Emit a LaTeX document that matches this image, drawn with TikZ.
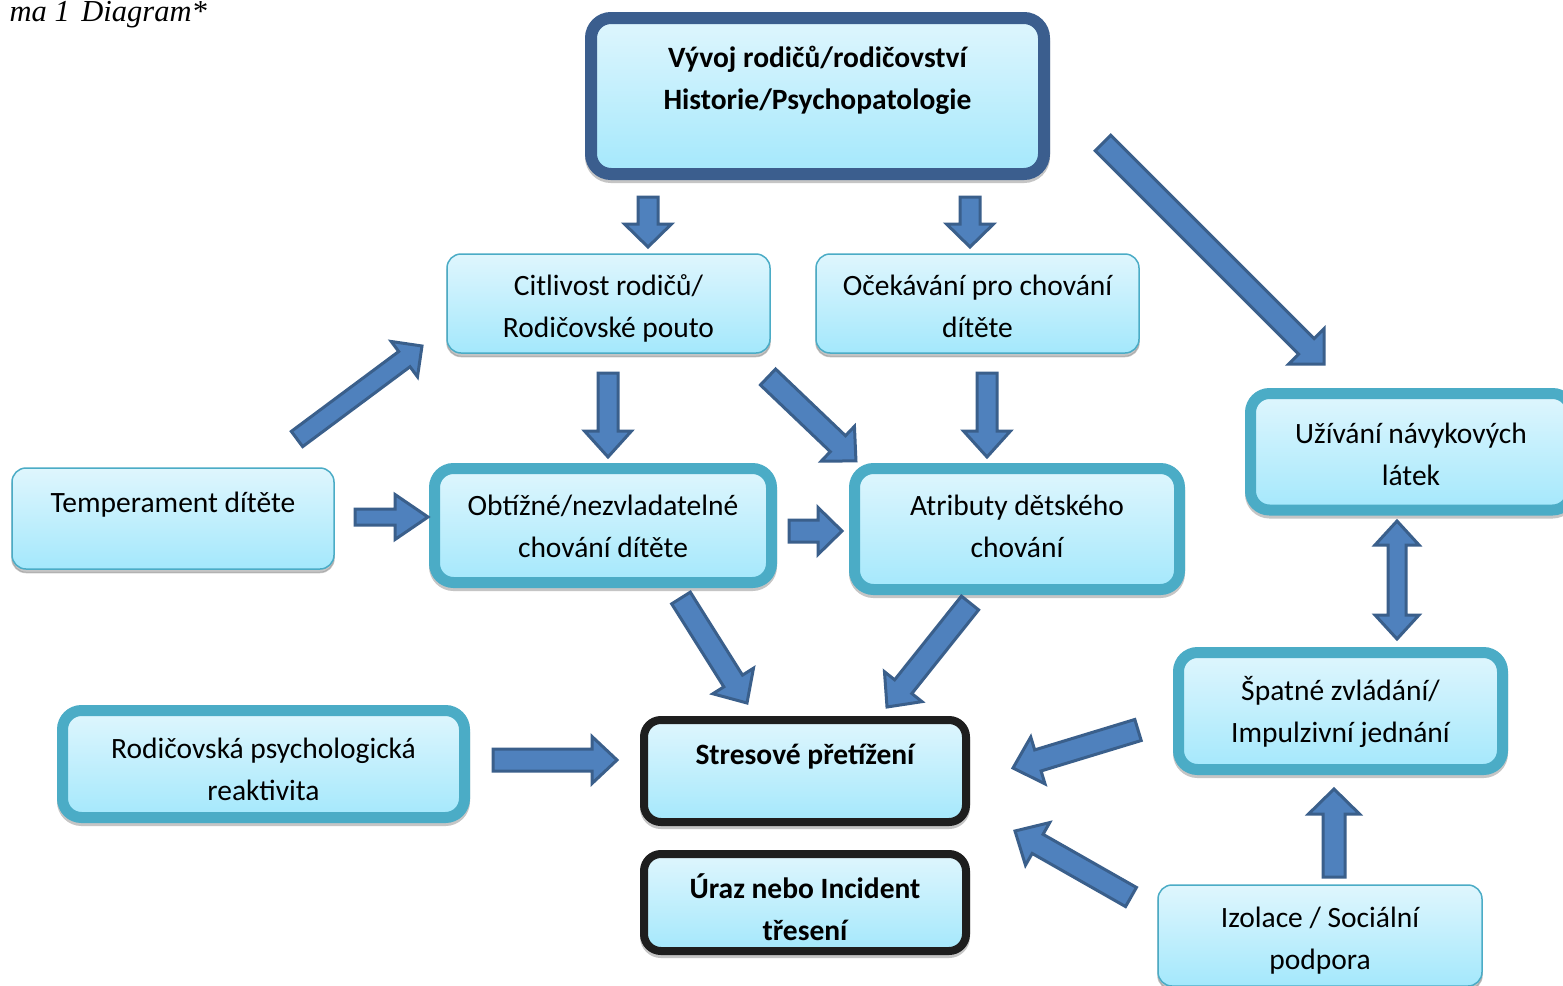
\documentclass[tikz,border=0pt]{standalone}
\usepackage{fontspec}
\setmainfont{Carlito}
\newfontfamily\capfont{Liberation Serif}
\usetikzlibrary{shadows,calc}
\definecolor{bxline}{HTML}{4BACC6}
\definecolor{topline}{HTML}{3B5E8E}
\definecolor{blkline}{HTML}{1E1E1E}
\definecolor{arrfill}{HTML}{4F81BD}
\definecolor{arrline}{HTML}{3A5F8B}
\definecolor{gtop}{HTML}{DFF6FD}
\definecolor{gbot}{HTML}{A4E8FC}
\definecolor{shd}{HTML}{8C8C8C}
\newcommand\bxt[4]{\begin{minipage}[c][#1pt][t]{#2pt}\centering\rule{0pt}{#3pt}#4\end{minipage}}
\newcommand\bas{11}
\newcommand\bah{24}
\newcommand\bal{25}
\begin{document}
\begin{tikzpicture}[x=1pt,y=-1pt,
  box/.style={rectangle, inner sep=0pt, top color=gtop, bottom color=gbot,
    font=\fontsize{29.5}{42}\selectfont, text=black},
  thinbox/.style={box, draw=bxline, line width=1.5pt, rounded corners=14pt,
    drop shadow={shadow xshift=0pt, shadow yshift=-3.5pt, fill=shd, draw=shd, line width=1.5pt}},
  thickbox/.style={box, draw=bxline, line width=11pt, rounded corners=19pt,
    drop shadow={shadow xshift=0pt, shadow yshift=-3pt, fill=shd, draw=shd, line width=11pt}},
  topbox/.style={box, draw=topline, line width=12pt, rounded corners=20pt,
    font=\fontsize{29.5}{42}\selectfont\bfseries,
    drop shadow={shadow xshift=0pt, shadow yshift=-3pt, fill=shd, draw=shd, line width=12pt}},
  blackbox/.style={box, draw=blkline, line width=8pt, rounded corners=17pt,
    font=\fontsize{29.5}{42}\selectfont\bfseries,
    drop shadow={shadow xshift=0pt, shadow yshift=-3pt, fill=shd, draw=shd, line width=8pt}},
  shaftw/.code={\renewcommand\bas{#1}},
  headw/.code={\renewcommand\bah{#1}},
  headl/.code={\renewcommand\bal{#1}},
  blockarrow/.style={draw=arrline, fill=arrfill, line width=3pt, line join=miter,
    to path={let \p1=(\tikztostart), \p2=(\tikztotarget),
      \n1={atan2(\y2-\y1,\x2-\x1)}, \n2={veclen(\x2-\x1,\y2-\y1)} in
      {[shift={(\p1)}, rotate=\n1]
       (0pt,\bas pt) -- ({\n2-\bal pt},\bas pt) -- ({\n2-\bal pt},\bah pt)
       -- ({\n2},0pt) -- ({\n2-\bal pt},-\bah pt) -- ({\n2-\bal pt},-\bas pt)
       -- (0pt,-\bas pt) -- cycle}}},
  dblarrow/.style={draw=arrline, fill=arrfill, line width=3pt, line join=miter,
    to path={let \p1=(\tikztostart), \p2=(\tikztotarget),
      \n1={atan2(\y2-\y1,\x2-\x1)}, \n2={veclen(\x2-\x1,\y2-\y1)} in
      {[shift={(\p1)}, rotate=\n1]
       (0pt,0pt) -- (\bal pt,\bah pt) -- (\bal pt,\bas pt) -- ({\n2-\bal pt},\bas pt)
       -- ({\n2-\bal pt},\bah pt) -- ({\n2},0pt) -- ({\n2-\bal pt},-\bah pt)
       -- ({\n2-\bal pt},-\bas pt) -- (\bal pt,-\bas pt) -- (\bal pt,-\bah pt) -- cycle}}}
]
\fill[white] (0,0) rectangle (1563,985);
\useasboundingbox (0,0) rectangle (1563,985);

\node[anchor=base east, inner sep=0pt, font=\capfont\itshape\fontsize{30.5}{35}\selectfont] (cap) at (207,21) {ma 1\hspace{4pt} Diagram*};

\node[topbox, minimum width=453pt] (vyvoj) at (817.5,96) {\bxt{156}{440}{49}{Vývoj rodičů/rodičovství\\Historie/Psychopatologie}};
\node[thinbox, minimum width=323pt] (citl) at (608.5,303.5) {\bxt{99}{310}{41}{Citlivost rodičů/\\Rodičovské pouto}};
\node[thinbox, minimum width=323pt] (ocek) at (977.5,303.5) {\bxt{99}{310}{41}{Očekávání pro chování\\dítěte}};
\node[thinbox, minimum width=322pt] (temp) at (173,518.5) {\bxt{101}{310}{44}{Temperament dítěte}};
\node[thickbox, minimum width=337pt] (obt) at (603,525.5) {\bxt{114}{325}{46.5}{Obtížné/nezvladatelné\\chování dítěte}};
\node[thickbox, minimum width=325pt] (atr) at (1017,529) {\bxt{121}{315}{46.5}{Atributy dětského\\chování}};
\node[thickbox, minimum width=321pt] (uziv) at (1411,451.75) {\bxt{116.5}{310}{49.5}{Užívání návykových\\látek}};
\node[thickbox, minimum width=324pt] (spat) at (1340.5,711) {\bxt{117}{315}{47.5}{Špatné zvládání/\\Impulzivní jednání}};
\node[thickbox, minimum width=402pt] (rodr) at (263.5,764) {\bxt{107}{390}{47.5}{Rodičovská psychologická\\reaktivita}};
\node[blackbox, minimum width=322pt] (stres) at (805,771) {\bxt{102}{310}{44}{Stresové přetížení}};
\node[blackbox, minimum width=322pt] (uraz) at (805,902.5) {\bxt{97}{310}{44}{Úraz nebo Incident\\třesení}};
\node[thinbox, minimum width=324pt] (izol) at (1320,935.5) {\bxt{101}{310}{42}{Izolace / Sociální\\podpora}};

% arrow end points
\coordinate (a1s) at (648,197);  \coordinate (a1e) at (648,247);
\coordinate (a2s) at (970,197);  \coordinate (a2e) at (970,247);
\coordinate (a3s) at (1103,143); \coordinate (a3e) at (1324,364);
\coordinate (a4s) at (297,439);  \coordinate (a4e) at (422,346);
\coordinate (a5s) at (608,373);  \coordinate (a5e) at (608,457);
\coordinate (a6s) at (768,377);  \coordinate (a6e) at (856,461);
\coordinate (a7s) at (987,373);  \coordinate (a7e) at (987,457);
\coordinate (a8s) at (355,517);  \coordinate (a8e) at (428,517);
\coordinate (a9s) at (789,531);  \coordinate (a9e) at (842,531);
\coordinate (a10s) at (1397,521); \coordinate (a10e) at (1397,639);
\coordinate (a11s) at (681,598); \coordinate (a11e) at (747,703);
\coordinate (a12s) at (970,603); \coordinate (a12e) at (887,707);
\coordinate (a13s) at (493,760); \coordinate (a13e) at (617,760);
\coordinate (a14s) at (1138,730); \coordinate (a14e) at (1013,768);
\coordinate (a15s) at (1131,897); \coordinate (a15e) at (1015,831);
\coordinate (a16s) at (1334,877); \coordinate (a16e) at (1334,789);

\draw[blockarrow, shaftw=10, headw=23.5, headl=23] (a1s) to (a1e);
\draw[blockarrow, shaftw=10, headw=23.5, headl=23] (a2s) to (a2e);
\draw[blockarrow, shaftw=11, headw=25, headl=25] (a3s) to (a3e);
\draw[blockarrow, shaftw=9.5, headw=22, headl=22] (a4s) to (a4e);
\draw[blockarrow, shaftw=10, headw=23.5, headl=26] (a5s) to (a5e);
\draw[blockarrow, shaftw=11, headw=24, headl=25] (a6s) to (a6e);
\draw[blockarrow, shaftw=10, headw=23.5, headl=26] (a7s) to (a7e);
\draw[blockarrow, shaftw=8, headw=22.5, headl=33] (a8s) to (a8e);
\draw[blockarrow, shaftw=11, headw=23.5, headl=24] (a9s) to (a9e);
\draw[dblarrow, shaftw=9, headw=22, headl=24] (a10s) to (a10e);
\draw[blockarrow, shaftw=11, headw=24, headl=26] (a11s) to (a11e);
\draw[blockarrow, shaftw=11, headw=24, headl=26] (a12s) to (a12e);
\draw[blockarrow, shaftw=11, headw=23.5, headl=25] (a13s) to (a13e);
\draw[blockarrow, shaftw=11, headw=24.5, headl=26] (a14s) to (a14e);
\draw[blockarrow, shaftw=11, headw=24.5, headl=26] (a15s) to (a15e);
\draw[blockarrow, shaftw=11, headw=25.5, headl=25] (a16s) to (a16e);
\end{tikzpicture}
\end{document}
